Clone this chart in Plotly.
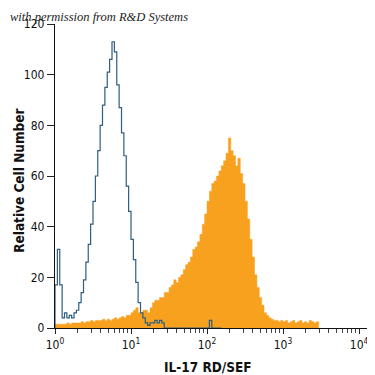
import numpy as np
import plotly.graph_objects as go

# 128 log-spaced channels spanning 10^0 .. 10^4
N_BINS = 128
DECADES = 4

# Isotype / control histogram (outline), counts per channel starting at channel 0
control_counts = [
    17, 31, 17, 4, 6, 4, 5, 4, 6, 7,
    10, 14, 19, 26, 33, 41, 50, 60, 70, 80,
    88, 95, 101, 106, 113, 109, 96, 87, 77, 68,
    56, 46, 35, 27, 18, 10, 6, 4, 2, 1,
    2, 2, 3, 2, 3, 2, 0, 0, 0, 0,
    0, 0, 0, 0, 0, 0, 0, 0, 0, 0,
    0, 0, 0, 0, 0, 3, 0, 0, 0, 0,
]

# IL-17 RD/SEF stained histogram (filled), counts per channel starting at channel 0
stained_counts = [
    1.5, 1.5, 1.5, 1.5, 1.5, 2, 1.5, 2, 2, 2,
    2, 2.5, 2, 2.5, 2.5, 3, 2.5, 3, 3, 3,
    3.5, 3, 3.5, 3, 3.5, 4, 3.5, 4, 4.5, 4,
    5, 5, 6, 7, 8, 6, 6, 7, 7, 6,
    8, 10, 11, 11, 12, 12, 14, 14, 16, 17,
    19, 18, 20, 21, 23, 25, 26, 28, 31, 32,
    34, 37, 41, 45, 50, 54, 57, 58, 60, 62,
    64, 66, 69, 75, 70, 68, 64, 67, 61, 57,
    50, 43, 35, 28, 21, 16, 12, 9, 6, 5,
    4, 3.5, 3, 3, 2.5, 3, 2.5, 3, 2, 2.5,
    3, 2, 2.5, 3, 2, 2.5, 2, 3, 2.5, 2,
    2.5,
]

y_tick_vals = [0, 20, 40, 60, 80, 100, 120]
x_tick_vals = [1, 10, 100, 1000, 10000]
x_tick_text = ["10<sup>0</sup>", "10<sup>1</sup>", "10<sup>2</sup>", "10<sup>3</sup>", "10<sup>4</sup>"]

x_title = "IL-17 RD/SEF"
y_title = "Relative Cell Number"
credit = "with permission from R&D Systems"

edges = 10 ** (np.arange(N_BINS + 1) * DECADES / N_BINS)


def step_xy(counts):
    n = len(counts)
    xs = [edges[0]]
    ys = [0]
    for i in range(n):
        xs += [edges[i], edges[i + 1]]
        ys += [counts[i], counts[i]]
    xs.append(edges[n])
    ys.append(0)
    return xs, ys


sx, sy = step_xy(stained_counts)
cx, cy = step_xy(control_counts)

minor_vals = [m * 10 ** d for d in range(4) for m in range(2, 10)]

fig = go.Figure()
fig.add_trace(go.Scatter(
    x=sx, y=sy, mode="lines", line=dict(color="#F7A11F", width=0.5),
    fill="tozeroy", fillcolor="#F7A11F", hoverinfo="skip", showlegend=False,
))
fig.add_trace(go.Scatter(
    x=cx, y=cy, mode="lines", line=dict(color="#2E5E80", width=1.2),
    hoverinfo="skip", showlegend=False,
))

COND = "DejaVu Sans Condensed, Liberation Sans Narrow, Roboto, sans-serif"
label_font = dict(family=COND, size=12, color="#111")
title_font = dict(family=COND, size=13.5, color="#111")

# page body has an 8px default margin, so the figure is 367 px and offset accordingly
fig.update_layout(
    width=367, height=367,
    margin=dict(l=47, r=7, t=16, b=47),
    paper_bgcolor="white", plot_bgcolor="white",
    xaxis=dict(
        type="log", range=[0, 4.118], automargin=False,
        tickvals=x_tick_vals, ticktext=x_tick_text,
        ticks="outside", ticklen=5, tickwidth=1, tickcolor="#222",
        minor=dict(ticks="outside", ticklen=4, tickwidth=1, tickcolor="#444", tickvals=minor_vals),
        showline=True, linecolor="#111", linewidth=1.3,
        showgrid=False, zeroline=False,
        tickfont=label_font,
    ),
    yaxis=dict(
        range=[0, 120], automargin=False,
        tickvals=y_tick_vals,
        ticks="outside", ticklen=7, tickwidth=1, tickcolor="#222",
        showline=True, linecolor="#111", linewidth=1.3,
        showgrid=False, zeroline=False,
        tickfont=label_font,
    ),
    annotations=[
        dict(
            text="<i>" + credit + "</i>", xref="paper", yref="paper",
            x=-0.15, y=1.0, xanchor="left", yanchor="middle", yshift=7, showarrow=False,
            font=dict(family="Liberation Serif, DejaVu Serif, serif", size=12.5, color="#222"),
        ),
        dict(
            text="<b>" + x_title + "</b>", xref="paper", yref="paper",
            x=0.489, y=0, xanchor="center", yanchor="top", yshift=-29, showarrow=False,
            font=title_font,
        ),
        dict(
            text="<b>" + y_title + "</b>", xref="paper", yref="paper", textangle=-90,
            x=0, y=0.484, xanchor="center", yanchor="middle", xshift=-36, showarrow=False,
            font=title_font,
        ),
    ],
)

fig.write_html("out.html")
